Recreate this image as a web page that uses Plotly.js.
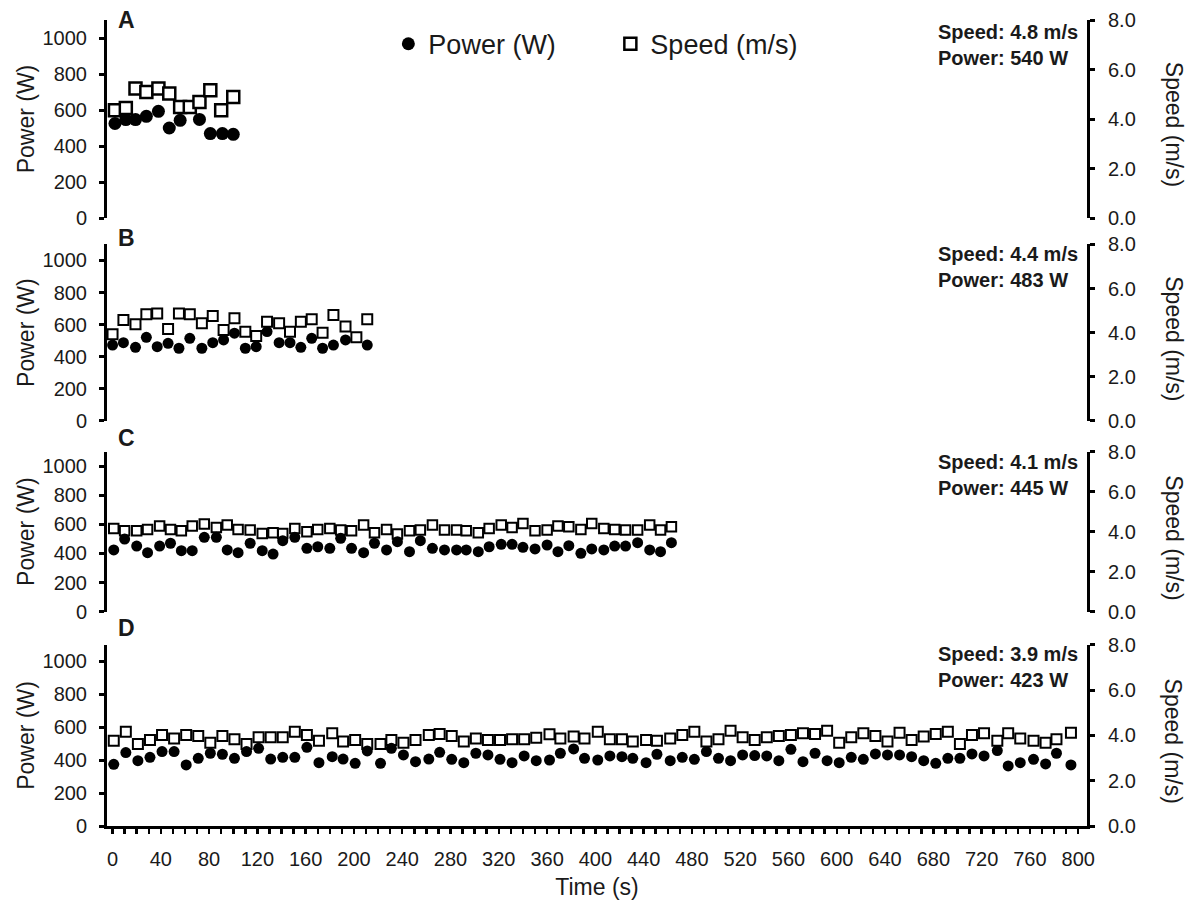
<!DOCTYPE html>
<html>
<head>
<meta charset="utf-8">
<script src="https://cdn.plot.ly/plotly-3.0.1.min.js"></script>
<style>html,body{margin:0;padding:0;background:#fff;}</style>
</head>
<body>
<div id="chart" style="width:1193px;height:903px;"></div>
<script>
// ---------- Data ----------
const panelLabels = ['A', 'B', 'C', 'D'];
const meanSpeed = ['4.8', '4.4', '4.1', '3.9'];
const meanPower = ['540', '483', '445', '423'];

// Panel A
const timeA_power = [2, 11, 19, 28, 38, 47, 56, 72, 81, 91, 100];
const powerA = [525, 547, 547, 565, 593, 500, 543, 548, 469, 469, 465];
const timeA_speed = [2, 11, 19, 28, 38, 47, 56, 64, 72, 81, 90, 100];
const speedA = [4.35, 4.45, 5.23, 5.09, 5.23, 5.03, 4.49, 4.49, 4.69, 5.16, 4.35, 4.89];

// Panel B
const timeB_power = [0, 9, 19, 28, 37, 46, 55, 64, 74, 83, 92, 101, 110, 119, 128, 138, 147, 156, 165, 174, 183, 193, 211];
const powerB = [472, 487, 458, 520, 462, 483, 452, 514, 452, 487, 504, 546, 452, 462, 556, 487, 487, 458, 514, 452, 472, 504, 472];
const timeB_speed = [0, 9, 19, 28, 37, 46, 55, 64, 74, 83, 92, 101, 110, 119, 128, 138, 147, 156, 165, 174, 183, 193, 202, 211];
const speedB = [3.92, 4.57, 4.38, 4.83, 4.87, 4.16, 4.87, 4.83, 4.42, 4.75, 4.12, 4.65, 4.04, 3.84, 4.49, 4.42, 4.04, 4.49, 4.60, 3.99, 4.80, 4.27, 3.79, 4.60];

// Panel C
const timeC = [1, 10, 20, 29, 39, 48, 57, 66, 76, 86, 95, 104, 114, 124, 133, 141, 151, 161, 170, 180, 189, 198, 208, 217, 227, 236, 246, 255, 265, 275, 285, 293, 303, 312, 322, 331, 340, 350, 360, 369, 378, 388, 397, 407, 416, 425, 435, 445, 454, 463];
const powerC = [424, 499, 451, 405, 451, 470, 419, 419, 511, 511, 424, 405, 470, 419, 396, 488, 511, 435, 446, 435, 504, 435, 405, 470, 424, 481, 412, 488, 435, 424, 424, 424, 412, 446, 463, 463, 442, 431, 458, 412, 453, 401, 431, 424, 451, 451, 474, 424, 412, 474];
const speedC = [4.16, 4.04, 4.04, 4.11, 4.28, 4.11, 4.04, 4.28, 4.38, 4.21, 4.33, 4.11, 4.08, 3.91, 3.94, 3.91, 4.16, 3.99, 4.11, 4.16, 4.08, 4.04, 4.33, 3.94, 4.11, 3.88, 4.04, 4.08, 4.33, 4.08, 4.08, 4.04, 3.94, 4.16, 4.33, 4.21, 4.41, 4.04, 4.08, 4.28, 4.24, 4.11, 4.41, 4.16, 4.11, 4.08, 4.08, 4.33, 4.08, 4.24];

// Panel D
const timeD = [1, 11, 21, 31, 41, 51, 61, 71, 81, 91, 101, 111, 121, 131, 141, 151, 161, 171, 182, 191, 201, 211, 222, 231, 241, 251, 262, 271,
  281, 291, 301, 311, 321, 331, 341, 351, 362, 371, 382, 391, 402, 412, 422, 431, 442, 451, 462, 472, 482, 492, 502, 512, 522, 532, 542, 552,
  562, 572, 582, 592, 602, 612, 622, 632, 642, 652, 662, 672, 682, 692, 702, 712, 722, 733, 742, 752, 763, 773, 782, 794];
const powerD = [375, 446, 397, 417, 452, 452, 371, 411, 442, 436, 411, 452, 472, 407, 417, 417, 478, 385, 421, 407, 381, 456, 381, 472, 432, 391, 407, 448,
  405, 385, 442, 432, 405, 385, 426, 397, 401, 442, 468, 411, 401, 426, 421, 411, 385, 436, 397, 417, 405, 452, 411, 397, 432, 428, 426, 397,
  466, 391, 442, 397, 385, 417, 405, 438, 432, 432, 421, 397, 381, 411, 411, 438, 426, 458, 365, 385, 405, 377, 442, 371];
const speedD = [3.77, 4.17, 3.62, 3.80, 4.02, 3.87, 4.02, 3.98, 3.68, 3.98, 3.83, 3.62, 3.92, 3.92, 3.92, 4.17, 4.02, 3.77, 4.10, 3.73, 3.80, 3.62, 3.62, 3.80, 3.68, 3.80, 4.02, 4.07,
  3.98, 3.73, 3.87, 3.80, 3.80, 3.83, 3.83, 3.90, 4.05, 3.87, 3.95, 3.87, 4.17, 3.83, 3.83, 3.73, 3.80, 3.77, 3.87, 4.02, 4.17, 3.73, 3.83, 4.21, 3.92, 3.80, 3.92, 3.98,
  4.02, 4.10, 4.07, 4.21, 3.68, 3.92, 4.10, 3.98, 3.73, 4.12, 3.80, 3.95, 4.07, 4.17, 3.62, 4.02, 4.10, 3.77, 4.10, 3.87, 3.77, 3.68, 3.83, 4.12];

const xTickVals = [0, 40, 80, 120, 160, 200, 240, 280, 320, 360, 400, 440, 480, 520, 560, 600, 640, 680, 720, 760, 800];
const powerTicks = [0, 200, 400, 600, 800, 1000];
const speedTicks = [0, 2, 4, 6, 8];

// ---------- Build ----------
const panels = [
  {tp: timeA_power, p: powerA, ts: timeA_speed, s: speedA, cs: 13, ss: 12, lw: 2.5},
  {tp: timeB_power, p: powerB, ts: timeB_speed, s: speedB, cs: 11, ss: 10, lw: 2},
  {tp: timeC, p: powerC, ts: timeC, s: speedC, cs: 11, ss: 9.5, lw: 2},
  {tp: timeD, p: powerD, ts: timeD, s: speedD, cs: 11, ss: 10, lw: 2}
];
// pixel-derived domains
const domains = [[0.7543, 1.0], [0.5029, 0.7215], [0.2659, 0.4646], [0.0, 0.2246]];

const traces = [];
panels.forEach((pn, i) => {
  const sAx = i * 2 + 1;      // base axis: speed (right)
  const pAx = i * 2 + 2;      // overlaying axis: power (left)
  traces.push({
    type: 'scatter', mode: 'markers', name: 'Power (W)',
    x: pn.tp, y: pn.p, xaxis: 'x', yaxis: 'y' + pAx,
    marker: {symbol: 'circle', size: pn.cs, color: 'black'},
    showlegend: i === 0, legendrank: 1, hoverinfo: 'skip'
  });
  traces.push({
    type: 'scatter', mode: 'markers', name: 'Speed (m/s)',
    x: pn.ts, y: pn.s, xaxis: 'x', yaxis: (sAx === 1 ? 'y' : 'y' + sAx),
    marker: {symbol: 'square', size: pn.ss, color: 'white', line: {color: 'black', width: pn.lw}},
    showlegend: i === 0, legendrank: 2, hoverinfo: 'skip'
  });
});

const FONT = 'Liberation Sans, Arial, sans-serif';
const layout = {
  width: 1193, height: 903,
  margin: {l: 107, r: 106, t: 20, b: 77},
  paper_bgcolor: 'white', plot_bgcolor: 'rgba(0,0,0,0)',
  font: {family: FONT, color: '#1a1a1a', size: 20},
  showlegend: true,
  legend: {orientation: 'h', x: 0.2871, y: 0.97, xanchor: 'left', yanchor: 'middle',
           font: {size: 27, family: FONT, color: '#1a1a1a'}, entrywidth: 177,
           bgcolor: 'rgba(0,0,0,0)', borderwidth: 0, itemclick: false},
  xaxis: {
    range: [-4.6, 807.3], anchor: 'y7', showline: true, linewidth: 3, linecolor: 'black',
    ticks: 'outside', ticklen: 5, tickwidth: 2.5, tickcolor: 'black',
    tickmode: 'array', tickvals: xTickVals, ticktext: xTickVals.map(String),
    minor: {dtick: 10, tick0: 0, ticks: 'outside', ticklen: 5, tickwidth: 2.5, tickcolor: 'black', showgrid: false},
    showgrid: false, zeroline: false, ticklabelstandoff: 8,
    tickfont: {size: 20},
    title: {text: 'Time (s)', font: {size: 23}, standoff: 10}
  },
  annotations: [],
  shapes: []
};

for (let i = 0; i < 4; i++) {
  const sAx = i * 2 + 1, pAx = i * 2 + 2;
  const sKey = sAx === 1 ? 'yaxis' : 'yaxis' + sAx;
  layout[sKey] = {
    domain: domains[i], anchor: 'x', side: 'right', range: [0, 8],
    tickmode: 'array', tickvals: speedTicks, ticktext: speedTicks.map(v => v.toFixed(1)),
    showline: true, linewidth: 3, linecolor: 'black',
    ticks: 'outside', ticklen: 5, tickwidth: 3, tickcolor: 'black',
    showgrid: false, zeroline: false, ticklabelstandoff: 9, tickfont: {size: 20}
  };
  layout['yaxis' + pAx] = {
    overlaying: sAx === 1 ? 'y' : 'y' + sAx, anchor: 'x', side: 'left', range: [0, 1100],
    tickmode: 'array', tickvals: powerTicks, ticktext: powerTicks.map(String),
    showline: true, linewidth: 3, linecolor: 'black',
    ticks: 'outside', ticklen: 5, tickwidth: 3, tickcolor: 'black',
    showgrid: false, zeroline: false, ticklabelstandoff: 8, tickfont: {size: 20},
    title: {text: 'Power (W)', font: {size: 23}, standoff: 2}
  };
  // panel letter
  const letterY = [0.9994, 0.729, 0.481, 0.2455][i];
  layout.annotations.push({
    text: '<b>' + panelLabels[i] + '</b>', xref: 'paper', yref: 'paper',
    x: 0.0195, y: letterY, xanchor: 'center', yanchor: 'middle', showarrow: false,
    font: {size: 23, family: FONT, color: '#1a1a1a'}
  });
  // stats
  const statY = [0.9684, 0.6937, 0.4352, 0.1971][i];
  layout.annotations.push({
    text: '<b>Speed: ' + meanSpeed[i] + ' m/s</b><br><b>Power: ' + meanPower[i] + ' W</b>',
    xref: 'paper', yref: 'paper', x: 0.846, y: statY, xanchor: 'left', yanchor: 'middle',
    align: 'left', showarrow: false, font: {size: 20, family: FONT, color: '#1a1a1a'}
  });
  // right axis title
  const rtY = [0.870, 0.604, 0.357, 0.1048][i];
  layout.annotations.push({
    text: 'Speed (m/s)', xref: 'paper', yref: 'paper', x: 1.0887, y: rtY,
    xanchor: 'center', yanchor: 'middle', textangle: 90, showarrow: false,
    font: {size: 23, family: FONT, color: '#1a1a1a'}
  });
}

Plotly.newPlot('chart', traces, layout, {staticPlot: true, displayModeBar: false});
</script>
</body>
</html>
